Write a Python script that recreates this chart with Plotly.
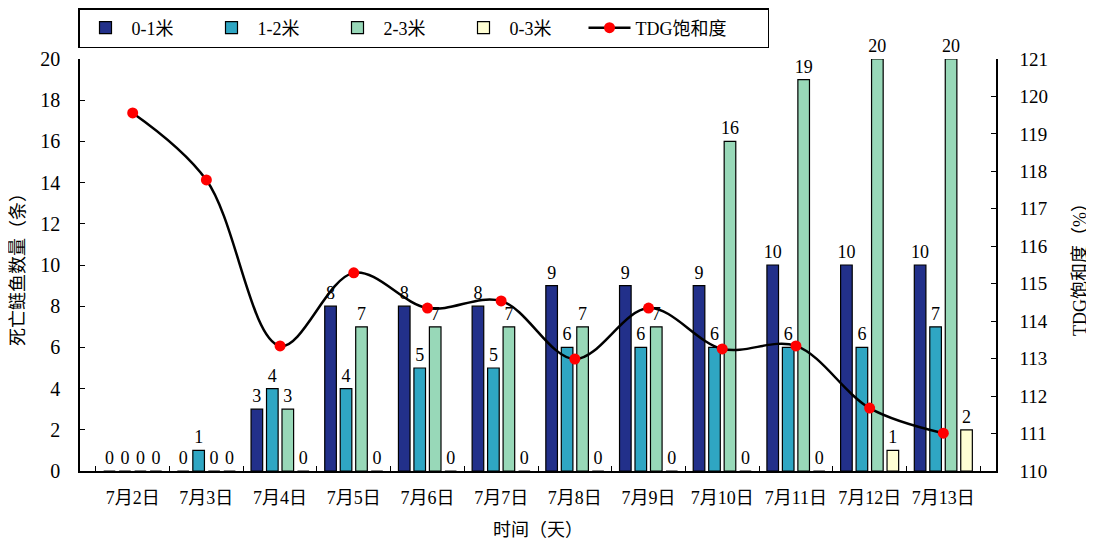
import plotly.graph_objects as go

dates = ["7月2日","7月3日","7月4日","7月5日","7月6日","7月7日","7月8日","7月9日","7月10日","7月11日","7月12日","7月13日"]
d01 = [0,0,3,8,8,8,9,9,9,10,10,10]
d12 = [0,1,4,4,5,5,6,6,6,6,6,7]
d23 = [0,0,3,7,7,7,7,7,16,19,20,20]
d03 = [0,0,0,0,0,0,0,0,0,0,1,2]
tdg = [119.56,117.77,113.34,115.29,114.35,114.54,112.99,114.35,113.26,113.34,111.68,111.01]

FONT = "Liberation Serif, Times New Roman, Noto Sans CJK SC"
PAD = "\u00a0" * 6

fig = go.Figure()
series = [("0-1米", d01, "#22308A"), ("1-2米", d12, "#2FA6C3"),
          ("2-3米", d23, "#98D8B8"), ("0-3米", d03, "#FFFFD4")]
for name, vals, col in series:
    fig.add_trace(go.Bar(
        x=dates, y=vals, name=name + PAD,
        marker=dict(color=col, line=dict(color="black", width=1.2)),
        text=vals, texttemplate="%{y}", textposition="outside",
        textfont=dict(family=FONT, size=18, color="black"),
        constraintext="none",
        cliponaxis=False,
    ))

fig.add_trace(go.Scatter(
    x=dates, y=tdg, name="TDG饱和度" + "\u00a0" * 8, yaxis="y2",
    mode="lines+markers", line=dict(color="black", width=2.5, shape="spline", smoothing=1.0),
    marker=dict(color="red", size=11),
))

# page body has an 8px margin, so the figure is shifted by 8px
fig.update_layout(
    width=1086, height=532,
    paper_bgcolor="white", plot_bgcolor="white",
    margin=dict(l=72, r=98, t=51, b=69, autoexpand=False),
    barmode="group", bargap=0.16, bargroupgap=0.25,
    font=dict(family=FONT, size=18, color="black"),
    showlegend=True,
    legend=dict(orientation="h", x=70/1086, y=1.0, xref="container", yref="container",
                xanchor="left", yanchor="top",
                bordercolor="black", borderwidth=1.5, bgcolor="white",
                font=dict(family=FONT, size=18),
                itemwidth=42),
    xaxis=dict(
        showline=True, linecolor="black", linewidth=1.5,
        ticks="inside", tickson="boundaries", ticklen=5, tickcolor="black",
        ticklabelstandoff=10,
        title=dict(text="时间（天）", font=dict(family=FONT, size=18), standoff=17),
        tickfont=dict(family=FONT, size=18),
    ),
    yaxis=dict(
        range=[0, 20], dtick=2, showgrid=False, zeroline=False,
        showline=True, linecolor="black", linewidth=1.5,
        ticks="inside", ticklen=5, tickcolor="black",
        ticklabelstandoff=14,
        title=dict(text="死亡鲢鱼数量（条）", font=dict(family=FONT, size=18), standoff=18),
        tickfont=dict(family=FONT, size=20),
    ),
    yaxis2=dict(
        range=[110, 121], dtick=1, overlaying="y", side="right",
        showgrid=False, zeroline=False,
        showline=True, linecolor="black", linewidth=1.5,
        ticks="inside", ticklen=5, tickcolor="black",
        ticklabelstandoff=18,
        title=dict(text="TDG饱和度（%）", font=dict(family=FONT, size=18), standoff=26),
        tickfont=dict(family=FONT, size=19),
    ),
)

fig.write_html("out.html")
